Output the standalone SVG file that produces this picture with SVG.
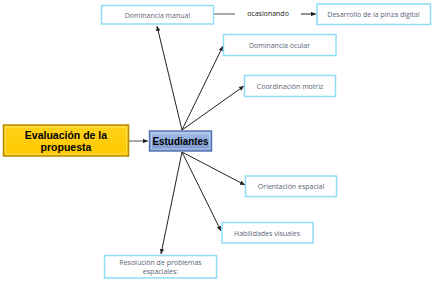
<svg xmlns="http://www.w3.org/2000/svg" width="433" height="282" viewBox="0 0 433 282">
<defs>
<marker id="ah" markerWidth="6" markerHeight="6" refX="5" refY="3" orient="auto" markerUnits="userSpaceOnUse">
<path d="M0,0.8 L5,3 L0,5.2 z" fill="#222"/>
</marker>
<linearGradient id="blue" x1="0" y1="0" x2="0" y2="1">
<stop offset="0" stop-color="#a9bfe8"/>
<stop offset="0.5" stop-color="#8eaadc"/>
<stop offset="1" stop-color="#7b98cf"/>
</linearGradient>
<linearGradient id="gold" x1="0" y1="0" x2="0" y2="1">
<stop offset="0" stop-color="#ffd21a"/>
<stop offset="1" stop-color="#ffc800"/>
</linearGradient>
</defs>
<style>
.box{fill:#fff;stroke:#8fdcf5;stroke-width:1.5}
.lbl{font-family:"Open Sans","Liberation Sans",sans-serif;font-size:7px;fill:#5b6478;text-anchor:middle;dominant-baseline:central}
.big{font-family:"Liberation Sans",Arial,sans-serif;font-size:10.5px;font-weight:bold;fill:#000;text-anchor:middle}
.ln{stroke:#222;stroke-width:1;fill:none}
</style>
<g id="connectors">
<line class="ln" x1="129" y1="141" x2="148" y2="141" marker-end="url(#ah)" style="stroke:#555"/>
<line class="ln" x1="182" y1="130" x2="157" y2="26" marker-end="url(#ah)"/>
<line class="ln" x1="182" y1="130" x2="223" y2="46" marker-end="url(#ah)"/>
<line class="ln" x1="182" y1="130" x2="244" y2="86" marker-end="url(#ah)"/>
<line class="ln" x1="182" y1="152" x2="245" y2="185" marker-end="url(#ah)"/>
<line class="ln" x1="182" y1="152" x2="221" y2="231" marker-end="url(#ah)"/>
<line class="ln" x1="182" y1="152" x2="161" y2="254" marker-end="url(#ah)"/>
<line class="ln" x1="214" y1="14" x2="235" y2="14" style="stroke:#555"/>
<line class="ln" x1="301" y1="14" x2="316" y2="14" marker-end="url(#ah)"/>
</g>
<g id="evaluacion">
<rect x="3.5" y="125" width="125" height="31" fill="url(#gold)" stroke="#b88a00" stroke-width="1.5"/>
<rect x="5.5" y="127" width="121" height="27" fill="none" stroke="#ffe066" stroke-width="0.8"/>
<text class="big" x="66" y="138.5">Evaluación de la</text>
<text class="big" x="66" y="150.5">propuesta</text>
</g>
<g id="estudiantes">
<rect x="149.5" y="131" width="62" height="20" fill="url(#blue)" stroke="#5a78b5" stroke-width="1.5"/>
<rect x="151.5" y="133" width="58" height="16" fill="none" stroke="#c5d5f2" stroke-width="0.8"/>
<text class="big" x="180.5" y="145" textLength="56" lengthAdjust="spacingAndGlyphs">Estudiantes</text>
</g>
<g id="dominancia-manual">
<rect class="box" x="101.5" y="5.5" width="112" height="18.5"/>
<text class="lbl" x="157.5" y="15">Dominancia manual</text>
</g>
<g id="ocasionando">
<text class="lbl" x="268" y="13.5" style="fill:#222">ocasionando</text>
</g>
<g id="desarrollo">
<rect class="box" x="317" y="4" width="113.5" height="20.5"/>
<text class="lbl" x="373.5" y="14.5">Desarrollo de la pinza digital</text>
</g>
<g id="dominancia-ocular">
<rect class="box" x="223.5" y="34.5" width="112.5" height="21"/>
<text class="lbl" x="279.5" y="45">Dominancia ocular</text>
</g>
<g id="coordinacion">
<rect class="box" x="244.5" y="75.5" width="91" height="21"/>
<text class="lbl" x="290" y="86">Coordinación motriz</text>
</g>
<g id="orientacion">
<rect class="box" x="245.5" y="176" width="91" height="20.5"/>
<text class="lbl" x="291" y="186.5">Orientación espacial</text>
</g>
<g id="habilidades">
<rect class="box" x="222" y="222.5" width="91" height="20.5"/>
<text class="lbl" x="267" y="233">Habilidades visuales</text>
</g>
<g id="resolucion">
<rect class="box" x="104.5" y="255.5" width="112" height="22.5"/>
<text class="lbl" x="160.5" y="262.5">Resolución de problemas</text>
<text class="lbl" x="160.5" y="271">espaciales:</text>
</g>
</svg>
